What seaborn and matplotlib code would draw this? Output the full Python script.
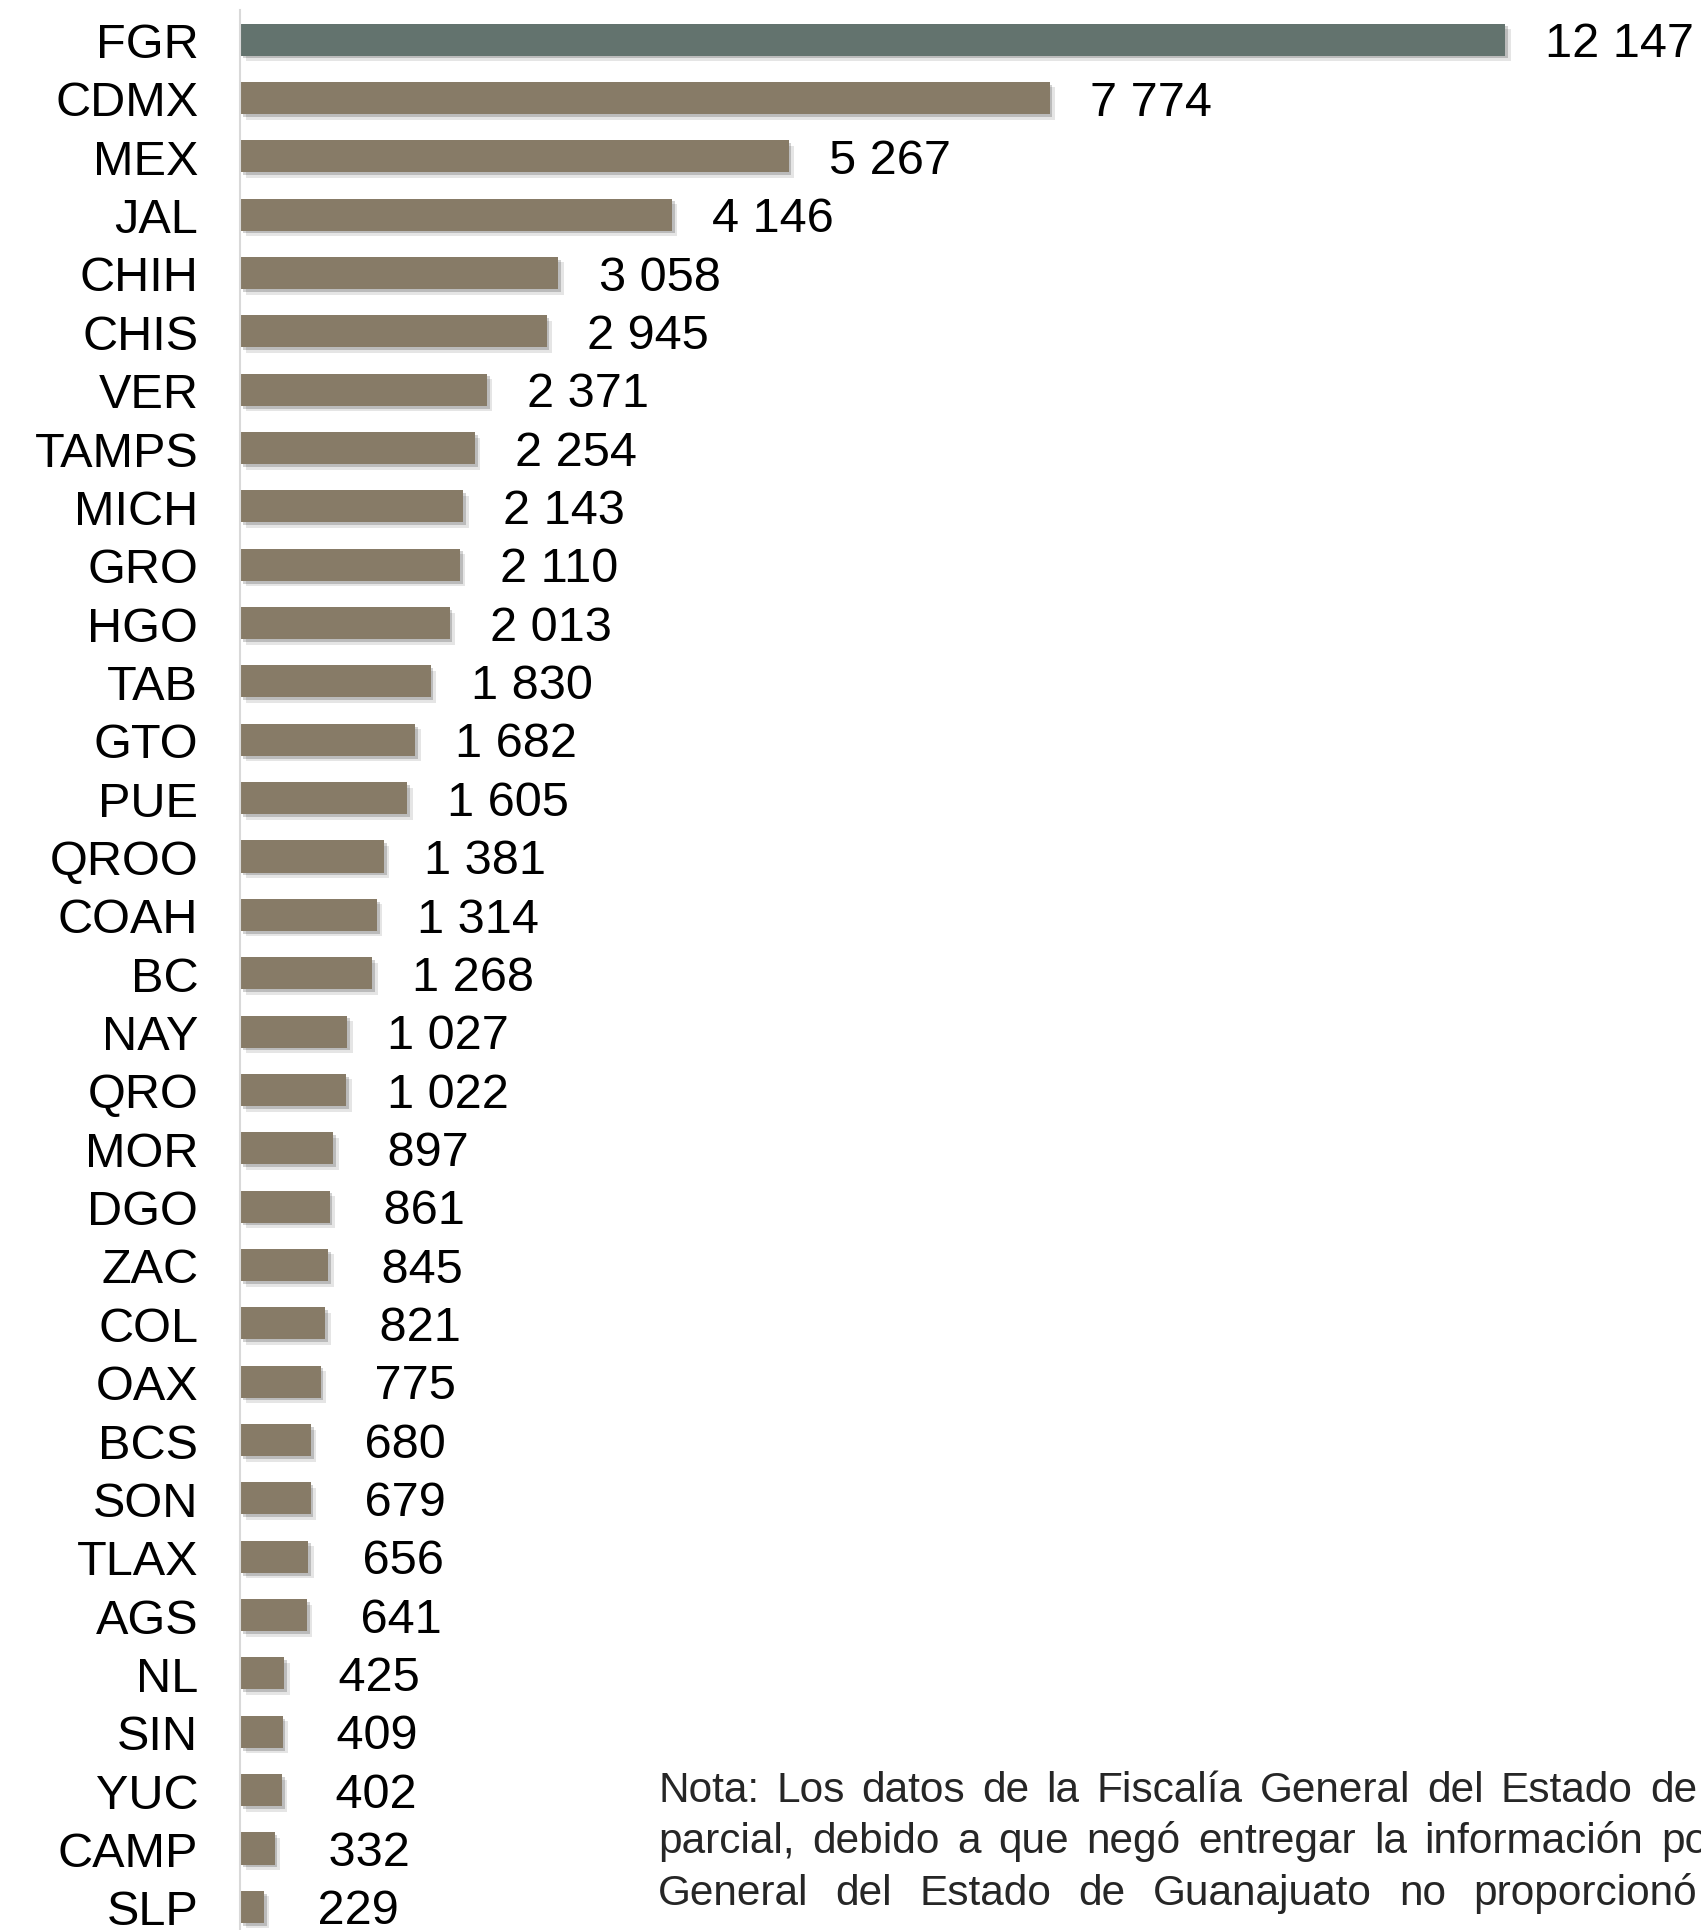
import matplotlib
matplotlib.use("Agg")
import matplotlib.pyplot as plt
import matplotlib.patheffects as pe
import seaborn as sns
import pandas as pd

# Data
entities = ["FGR", "CDMX", "MEX", "JAL", "CHIH", "CHIS", "VER", "TAMPS", "MICH",
            "GRO", "HGO", "TAB", "GTO", "PUE", "QROO", "COAH", "BC", "NAY", "QRO",
            "MOR", "DGO", "ZAC", "COL", "OAX", "BCS", "SON", "TLAX", "AGS", "NL",
            "SIN", "YUC", "CAMP", "SLP"]
values = [12147, 7774, 5267, 4146, 3058, 2945, 2371, 2254, 2143, 2110, 2013, 1830,
          1682, 1605, 1381, 1314, 1268, 1027, 1022, 897, 861, 845, 821, 775, 680,
          679, 656, 641, 425, 409, 402, 332, 229]

note_lines = [
    "Nota: Los datos de la Fiscalía General del Estado de",
    "parcial, debido a que negó entregar la información por",
    "General del Estado de Guanajuato no proporcionó",
]

FGR_COLOR = "#63736E"
STATE_COLOR = "#877B67"

W, H, DPI = 1701, 1931, 100

sns.set_style("white")
plt.rcParams["font.family"] = ["Liberation Sans", "DejaVu Sans"]

df = pd.DataFrame({"entidad": entities, "valor": values})
palette = [FGR_COLOR] + [STATE_COLOR] * (len(entities) - 1)

fig = plt.figure(figsize=(W / DPI, H / DPI), dpi=DPI)
# axes run a bit past the bottom edge, like the cropped original
ax_top, ax_bot = 11.4, 1937
ax = fig.add_axes([240 / W, 1 - ax_bot / H, (W - 240) / W, (ax_bot - ax_top) / H])

sns.barplot(data=df, x="valor", y="entidad", hue="entidad", palette=palette,
            legend=False, width=0.55, saturation=1, orient="h", ax=ax)

shadow = [pe.SimplePatchShadow(offset=(4, -4), shadow_rgbFace="k", alpha=0.10),
          pe.SimplePatchShadow(offset=(2, -2), shadow_rgbFace="k", alpha=0.18),
          pe.Normal()]
for bar in ax.patches:
    bar.set_path_effects(shadow)
    bar.set_edgecolor("none")

# labels: space as thousands separator, 3-digit numbers keep a leading space
labels = []
for v in values:
    s = f"{v:,}".replace(",", " ")
    if v < 1000:
        s = " " + s
    labels.append(s)
for cont, lab in zip(ax.containers, labels):
    anns = ax.bar_label(cont, labels=[lab], padding=29, fontsize=35, color="black")
    for a in anns:
        a.xyann = (29, -3)

ax.set_xlim(0, (W - 240) / 0.10414)
ax.set_ylim(len(entities) - 0.5, -0.5)
ax.set_xlabel("")
ax.set_ylabel("")
ax.set_xticks([])
ax.tick_params(axis="y", length=0, pad=30, labelsize=35, labelcolor="black")
for side in ["top", "right", "bottom"]:
    ax.spines[side].set_visible(False)
ax.spines["left"].set_color("#D9D9D9")
ax.spines["left"].set_linewidth(1.5)

# justified note text in the lower right, cropped by the figure edge
renderer = fig.canvas.get_renderer()
x0 = 658
right_edges = [1697, 1722, 1697]
baselines = [1802, 1853.5, 1905]
for line, x1, yb in zip(note_lines, right_edges, baselines):
    words = line.split(" ")
    texts = [fig.text(0, 1 - yb / H, w, fontsize=30.5, va="baseline", ha="left")
             for w in words]
    widths = [t.get_window_extent(renderer).width for t in texts]
    gap = (x1 - x0 - sum(widths)) / (len(words) - 1)
    x = x0
    for t, w in zip(texts, widths):
        t.set_x(x / W)
        x += w + gap

fig.savefig("out.png", dpi=DPI)
